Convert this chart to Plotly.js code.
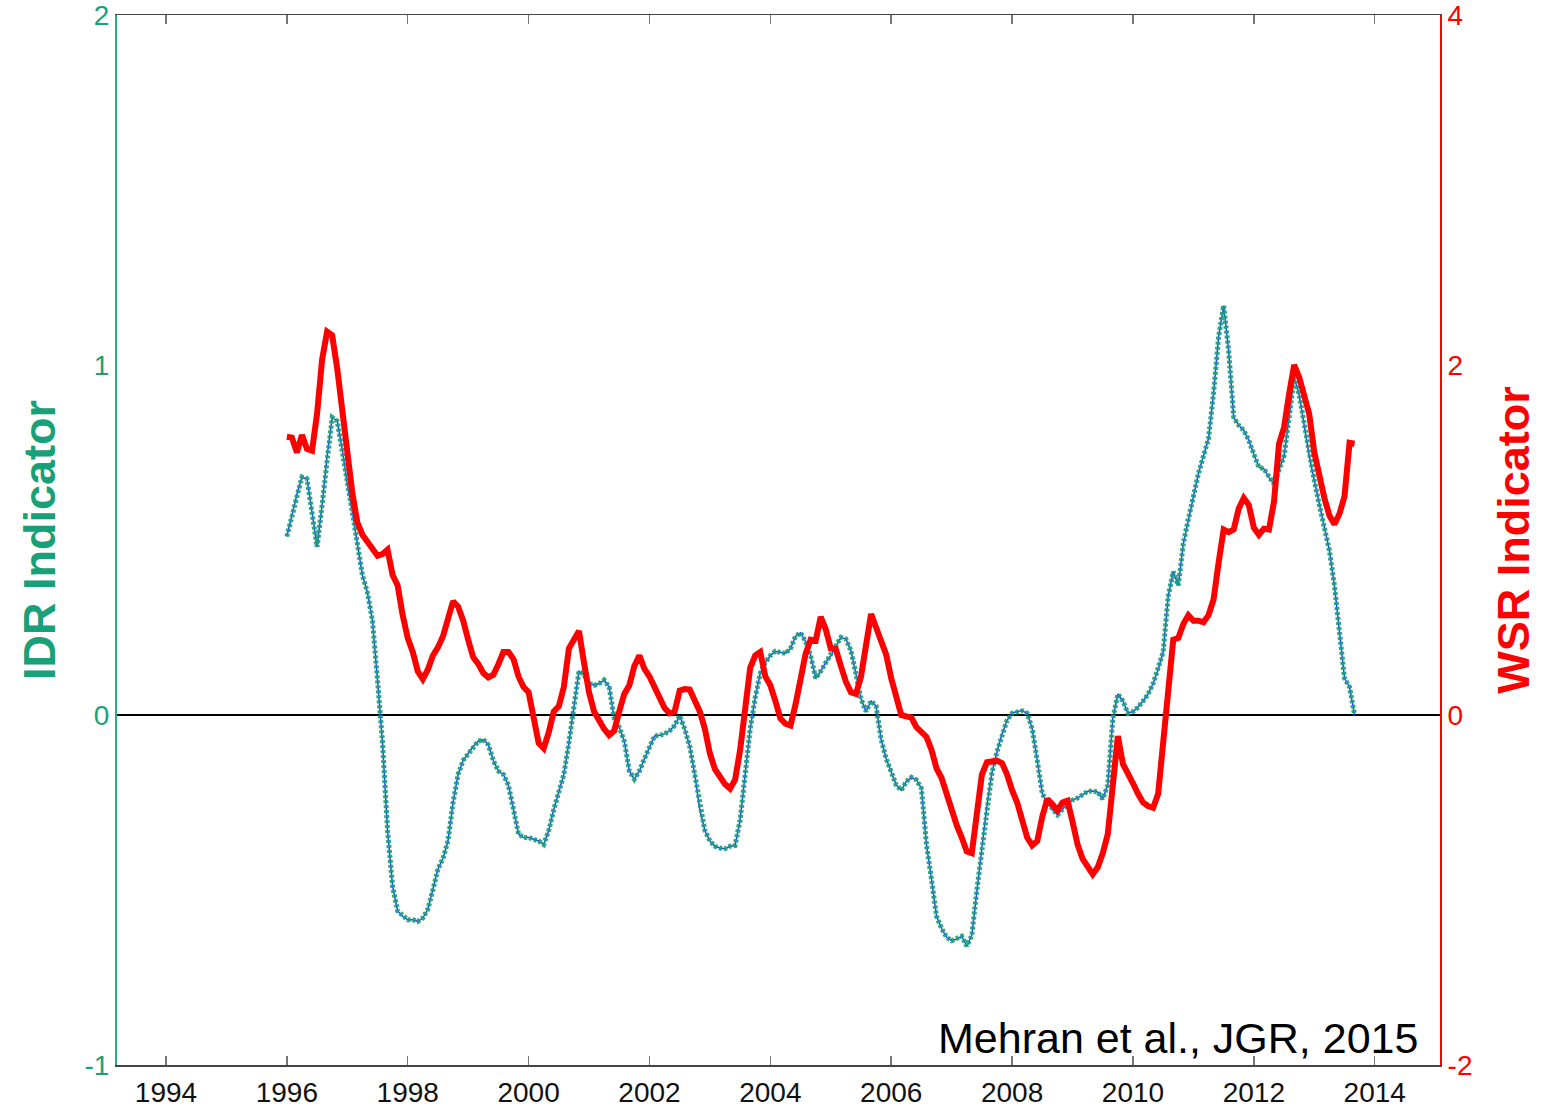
<!DOCTYPE html>
<html>
<head>
<meta charset="utf-8">
<script src="https://cdn.plot.ly/plotly-3.0.1.min.js"></script>
<style>
  html, body { margin: 0; padding: 0; background: #fff; }
  #chart { width: 1542px; height: 1107px; }
</style>
</head>
<body>
<div id="chart"></div>
<script>
// Monthly series starting January 1996 (index 0) through ~September 2013
const startYear = 1996;
const tickYears = [1994, 1996, 1998, 2000, 2002, 2004, 2006, 2008, 2010, 2012, 2014];

const idrValues = [
  0.51, 0.57, 0.63, 0.68, 0.675, 0.58, 0.48, 0.6, 0.74, 0.85, 0.84, 0.76,
  0.66, 0.58, 0.49, 0.4, 0.35, 0.27, 0.1, -0.08, -0.33, -0.49, -0.56, -0.575,
  -0.585, -0.585, -0.59, -0.58, -0.555, -0.5, -0.44, -0.41, -0.36, -0.25, -0.17, -0.13,
  -0.11, -0.09, -0.075, -0.07, -0.085, -0.13, -0.16, -0.17, -0.2, -0.27, -0.34, -0.35,
  -0.35, -0.355, -0.36, -0.37, -0.33, -0.27, -0.22, -0.17, -0.08, 0.03, 0.125, 0.115,
  0.09, 0.085, 0.09, 0.1, 0.08, -0.01, -0.035, -0.075, -0.16, -0.183, -0.16, -0.125,
  -0.09, -0.06, -0.058, -0.054, -0.045, -0.03, -0.002, -0.04, -0.09, -0.17, -0.27, -0.33,
  -0.36, -0.375, -0.38, -0.382, -0.375, -0.373, -0.3, -0.17, -0.04, 0.05, 0.12, 0.15,
  0.17, 0.182, 0.178, 0.176, 0.19, 0.225, 0.235, 0.21, 0.17, 0.105, 0.125, 0.15,
  0.17, 0.195, 0.222, 0.217, 0.184, 0.117, 0.046, 0.01, 0.04, 0.025, -0.07, -0.125,
  -0.16, -0.2, -0.215, -0.19, -0.178, -0.185, -0.21, -0.37, -0.47, -0.575, -0.61, -0.635,
  -0.645, -0.64, -0.632, -0.66, -0.63, -0.5, -0.38, -0.26, -0.165, -0.105, -0.055, -0.015,
  0.005, 0.01, 0.012, 0.005, -0.04, -0.13, -0.225, -0.25, -0.27, -0.285, -0.27, -0.254,
  -0.243, -0.237, -0.228, -0.218, -0.217, -0.22, -0.24, -0.2, -0.01, 0.06, 0.04, 0.005,
  0.01, 0.022, 0.04, 0.06, 0.09, 0.13, 0.18, 0.34, 0.41, 0.37, 0.49, 0.56,
  0.63, 0.69, 0.74, 0.79, 0.92, 1.08, 1.17, 1.04, 0.85, 0.828, 0.813, 0.785,
  0.745, 0.708, 0.703, 0.679, 0.66, 0.7, 0.74, 0.85, 0.965, 0.915, 0.83, 0.74,
  0.67, 0.6, 0.535, 0.47, 0.37, 0.23, 0.105, 0.08, 0.0
];

const wsrValues = [
  1.59, 1.585, 1.5, 1.6, 1.52, 1.51, 1.72, 2.03, 2.19, 2.17, 1.98, 1.73,
  1.45, 1.27, 1.1, 1.03, 0.99, 0.95, 0.91, 0.92, 0.945, 0.8, 0.74, 0.57,
  0.44, 0.36, 0.25, 0.205, 0.26, 0.34, 0.386, 0.45, 0.55, 0.65, 0.62, 0.54,
  0.43, 0.33, 0.292, 0.24, 0.215, 0.23, 0.29, 0.36, 0.36, 0.32, 0.22, 0.16,
  0.13, -0.01, -0.16, -0.19, -0.1, 0.02, 0.05, 0.16, 0.38, 0.43, 0.48, 0.3,
  0.13, 0.02, -0.035, -0.08, -0.115, -0.09, 0.02, 0.12, 0.17, 0.28, 0.34, 0.263,
  0.22, 0.16, 0.1, 0.04, 0.01, 0.02, 0.139, 0.148, 0.145, 0.09, 0.02, -0.08,
  -0.22, -0.31, -0.36, -0.395, -0.42, -0.37, -0.2, 0.05, 0.27, 0.34, 0.36, 0.22,
  0.17, 0.08, -0.02, -0.05, -0.06, 0.06, 0.22, 0.35, 0.43, 0.425, 0.56, 0.49,
  0.38, 0.377, 0.28, 0.19, 0.13, 0.12, 0.22, 0.4, 0.577, 0.5, 0.43, 0.345,
  0.21, 0.09, 0.0, -0.008, -0.015, -0.07, -0.1, -0.125, -0.2, -0.305, -0.36, -0.46,
  -0.55, -0.63, -0.7, -0.78, -0.79, -0.55, -0.34, -0.27, -0.261, -0.261, -0.275, -0.34,
  -0.43, -0.5, -0.6, -0.7, -0.745, -0.72, -0.58, -0.48, -0.51, -0.545, -0.5, -0.49,
  -0.61, -0.74, -0.823, -0.87, -0.91, -0.87, -0.79, -0.68, -0.4, -0.12, -0.28, -0.33,
  -0.39, -0.45, -0.5, -0.52, -0.53, -0.45, -0.15, 0.14, 0.43, 0.44, 0.52, 0.57,
  0.539, 0.539, 0.53, 0.57, 0.66, 0.87, 1.06, 1.045, 1.06, 1.18, 1.24, 1.2,
  1.07, 1.03, 1.065, 1.06, 1.22, 1.549, 1.644, 1.834, 2.0, 1.93, 1.834, 1.72,
  1.5, 1.36, 1.24, 1.14, 1.09, 1.15, 1.25, 1.555, 1.55
];

const idrTicks = [-1, 0, 1, 2];
const wsrTicks = [-2, 0, 2, 4];
const idrTitle = 'IDR Indicator';
const wsrTitle = 'WSR Indicator';
const credit = 'Mehran et al., JGR, 2015';

const idrTime = idrValues.map((v, i) => startYear + i / 12);
const wsrTime = wsrValues.map((v, i) => startYear + i / 12);

const GREEN = 'rgb(24,160,120)';
const GREEN_AXIS = 'rgb(40,175,135)';
const RED = 'rgb(255,0,0)';
const FONT = '"Liberation Sans", Arial, Helvetica, sans-serif';

const traces = [
  {
    x: idrTime, y: idrValues, type: 'scatter', mode: 'lines',
    line: { color: 'rgb(40,60,255)', width: 1.5 },
    yaxis: 'y', showlegend: false, hoverinfo: 'skip'
  },
  {
    x: idrTime, y: idrValues, type: 'scatter', mode: 'lines',
    line: { color: GREEN, width: 5, dash: '3px,2px' },
    opacity: 0.9,
    yaxis: 'y', showlegend: false, hoverinfo: 'x+y'
  },
  {
    x: wsrTime, y: wsrValues, type: 'scatter', mode: 'lines',
    line: { color: RED, width: 6 },
    yaxis: 'y2', showlegend: false, hoverinfo: 'x+y'
  }
];

const layout = {
  width: 1542, height: 1107,
  margin: { l: 117, r: 102, t: 15, b: 42 },
  paper_bgcolor: '#fff', plot_bgcolor: '#fff',
  font: { family: FONT, size: 27, color: '#000' },
  xaxis: {
    range: [1993.19, 2015.08],
    tickmode: 'array', tickvals: tickYears, ticktext: tickYears.map(String),
    ticks: 'inside', ticklen: 9, tickwidth: 1.5, tickcolor: '#777',
    showline: true, linecolor: '#444', linewidth: 1.5, mirror: 'ticks',
    showgrid: false, zeroline: false,
    tickfont: { family: FONT, size: 28, color: '#111' },
    ticklabelstandoff: 2, ticklabeloverflow: 'allow'
  },
  yaxis: {
    range: [-1, 2],
    tickmode: 'array', tickvals: idrTicks, ticktext: idrTicks.map(String),
    ticks: '', showline: true, linecolor: GREEN_AXIS, linewidth: 2,
    showgrid: false, zeroline: true, zerolinecolor: '#000', zerolinewidth: 2,
    tickfont: { family: FONT, size: 28, color: GREEN },
    ticklabeloverflow: 'allow',
    title: { text: idrTitle, font: { family: FONT, size: 45, color: GREEN, weight: 'bold' }, standoff: 15 }
  },
  yaxis2: {
    range: [-2, 4], overlaying: 'y', side: 'right',
    tickmode: 'array', tickvals: wsrTicks, ticktext: wsrTicks.map(String),
    ticks: '', showline: true, linecolor: RED, linewidth: 2,
    showgrid: false, zeroline: false,
    tickfont: { family: FONT, size: 28, color: RED },
    ticklabeloverflow: 'allow',
    title: { text: wsrTitle, font: { family: FONT, size: 45, color: RED, weight: 'bold' }, standoff: 26 }
  },
  annotations: [{
    text: credit, xref: 'paper', yref: 'paper', x: 0.985, y: 0.0, xanchor: 'right', yanchor: 'bottom',
    showarrow: false, font: { family: FONT, size: 43, color: '#000' }, yshift: 1
  }]
};

Plotly.newPlot('chart', traces, layout, { displayModeBar: false, staticPlot: true });
</script>
</body>
</html>
